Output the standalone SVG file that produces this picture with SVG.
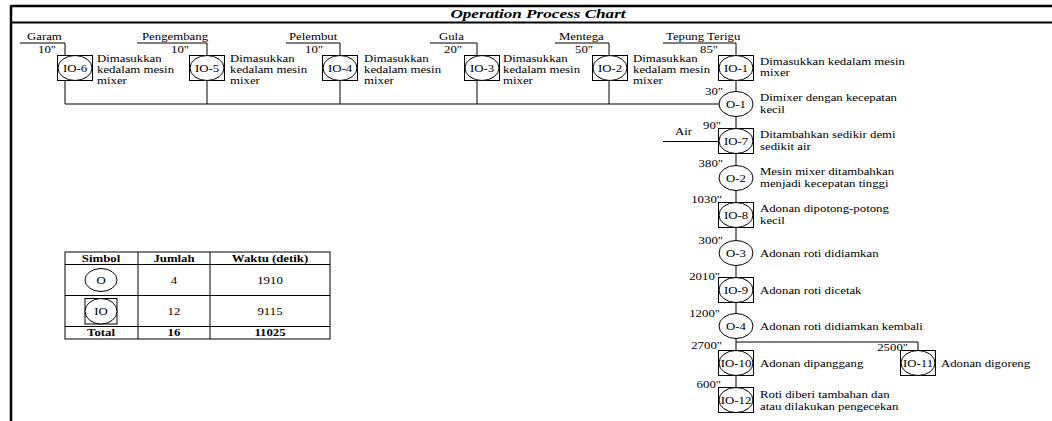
<svg xmlns="http://www.w3.org/2000/svg" width="1052" height="421" viewBox="0 0 1052 421">
<style>
text{font-family:"Liberation Serif","Times New Roman",serif;font-size:10px;fill:#000}
.t{font-size:13.5px;font-weight:bold;font-style:italic}
.c{text-anchor:middle}
.e{text-anchor:end}
.b{font-weight:bold}
.ln{stroke:#000;stroke-width:1;fill:none}
.sq{stroke:#000;stroke-width:1;fill:#fff}
.el{stroke:#000;stroke-width:1;fill:#fff}
</style>
<defs>
<g id="io"><rect class="sq" x="-17.5" y="-12.5" width="35" height="25"/><ellipse class="el" cx="0" cy="0" rx="17" ry="12.5"/></g>
<g id="op"><ellipse class="el" cx="0" cy="0" rx="17" ry="12.5"/></g>
</defs>
<rect width="1052" height="421" fill="#fff"/>
<g id="frame">
<line x1="11" y1="6" x2="1052" y2="6" stroke="#000" stroke-width="2.5"/>
<line x1="11" y1="22.5" x2="1052" y2="22.5" stroke="#000" stroke-width="2"/>
<line x1="11" y1="5" x2="11" y2="421" stroke="#000" stroke-width="2.5"/>
<text class="t c" transform="translate(538 18) scale(1.27 1)">Operation Process Chart</text>
</g>
<g id="connectors">
<path class="ln" d="M20 43H65V104H719"/>
<path class="ln" d="M137 43H207V104"/>
<path class="ln" d="M286 43H340V104"/>
<path class="ln" d="M430 43H477V104"/>
<path class="ln" d="M555 43H609V104"/>
<path class="ln" d="M663 43H736V388"/>
<path class="ln" d="M663 141.5H718.5"/>
<path class="ln" d="M736 342H918V350.5"/>
</g>
<g id="IO-6">
<text transform="translate(27 40) scale(1.28 1)">Garam</text>
<text class="e" transform="translate(56 53) scale(1.28 1)">10"</text>
<use href="#io" x="75" y="68"/>
<text class="c" transform="translate(75 71.5) scale(1.28 1)">IO-6</text>
<text transform="translate(97 62) scale(1.28 1)">Dimasukkan</text>
<text transform="translate(97 73) scale(1.28 1)">kedalam mesin</text>
<text transform="translate(97 84) scale(1.28 1)">mixer</text>
</g>
<g id="IO-5">
<text transform="translate(142 40) scale(1.28 1)">Pengembang</text>
<text class="e" transform="translate(189 53) scale(1.28 1)">10"</text>
<use href="#io" x="207" y="68"/>
<text class="c" transform="translate(207 71.5) scale(1.28 1)">IO-5</text>
<text transform="translate(230 62) scale(1.28 1)">Dimasukkan</text>
<text transform="translate(230 73) scale(1.28 1)">kedalam mesin</text>
<text transform="translate(230 84) scale(1.28 1)">mixer</text>
</g>
<g id="IO-4">
<text transform="translate(289 40) scale(1.28 1)">Pelembut</text>
<text class="e" transform="translate(323 53) scale(1.28 1)">10"</text>
<use href="#io" x="340" y="68"/>
<text class="c" transform="translate(340 71.5) scale(1.28 1)">IO-4</text>
<text transform="translate(364 62) scale(1.28 1)">Dimasukkan</text>
<text transform="translate(364 73) scale(1.28 1)">kedalam mesin</text>
<text transform="translate(364 84) scale(1.28 1)">mixer</text>
</g>
<g id="IO-3">
<text transform="translate(439 40) scale(1.28 1)">Gula</text>
<text class="e" transform="translate(462 53) scale(1.28 1)">20"</text>
<use href="#io" x="482" y="68"/>
<text class="c" transform="translate(482 71.5) scale(1.28 1)">IO-3</text>
<text transform="translate(503 62) scale(1.28 1)">Dimasukkan</text>
<text transform="translate(503 73) scale(1.28 1)">kedalam mesin</text>
<text transform="translate(503 84) scale(1.28 1)">mixer</text>
</g>
<g id="IO-2">
<text transform="translate(559 40) scale(1.28 1)">Mentega</text>
<text class="e" transform="translate(593 53) scale(1.28 1)">50"</text>
<use href="#io" x="610" y="68"/>
<text class="c" transform="translate(610 71.5) scale(1.28 1)">IO-2</text>
<text transform="translate(633 62) scale(1.28 1)">Dimasukkan</text>
<text transform="translate(633 73) scale(1.28 1)">kedalam mesin</text>
<text transform="translate(633 84) scale(1.28 1)">mixer</text>
</g>
<g id="IO-1">
<text transform="translate(666 40) scale(1.28 1)">Tepung Terigu</text>
<text class="e" transform="translate(718 53) scale(1.28 1)">85"</text>
<use href="#io" x="736" y="68"/>
<text class="c" transform="translate(736 71.5) scale(1.28 1)">IO-1</text>
<text transform="translate(760 65) scale(1.28 1)">Dimasukkan kedalam mesin</text>
<text transform="translate(760 76) scale(1.28 1)">mixer</text>
</g>
<g id="O-1">
<text class="e" transform="translate(723 95) scale(1.28 1)">30"</text>
<use href="#op" x="736" y="104"/>
<text class="c" transform="translate(736 107.5) scale(1.28 1)">O-1</text>
<text transform="translate(760 101) scale(1.28 1)">Dimixer dengan kecepatan</text>
<text transform="translate(760 113) scale(1.28 1)">kecil</text>
</g>
<g id="IO-7">
<text transform="translate(675 135) scale(1.28 1)">Air</text>
<text class="e" transform="translate(721 129) scale(1.28 1)">90"</text>
<use href="#io" x="736" y="141"/>
<text class="c" transform="translate(736 144.5) scale(1.28 1)">IO-7</text>
<text transform="translate(760 138) scale(1.28 1)">Ditambahkan sedikir demi</text>
<text transform="translate(760 150) scale(1.28 1)">sedikit air</text>
</g>
<g id="O-2">
<text class="e" transform="translate(723 167) scale(1.28 1)">380"</text>
<use href="#op" x="736" y="178"/>
<text class="c" transform="translate(736 181.5) scale(1.28 1)">O-2</text>
<text transform="translate(760 175) scale(1.28 1)">Mesin mixer ditambahkan</text>
<text transform="translate(760 187) scale(1.28 1)">menjadi kecepatan tinggi</text>
</g>
<g id="IO-8">
<text class="e" transform="translate(722 203) scale(1.28 1)">1030"</text>
<use href="#io" x="736" y="215"/>
<text class="c" transform="translate(736 218.5) scale(1.28 1)">IO-8</text>
<text transform="translate(760 212) scale(1.28 1)">Adonan dipotong-potong</text>
<text transform="translate(760 224) scale(1.28 1)">kecil</text>
</g>
<g id="O-3">
<text class="e" transform="translate(723 244) scale(1.28 1)">300"</text>
<use href="#op" x="736" y="253"/>
<text class="c" transform="translate(736 256.5) scale(1.28 1)">O-3</text>
<text transform="translate(760 256.5) scale(1.28 1)">Adonan roti didiamkan</text>
</g>
<g id="IO-9">
<text class="e" transform="translate(720 280) scale(1.28 1)">2010"</text>
<use href="#io" x="736" y="290"/>
<text class="c" transform="translate(736 293.5) scale(1.28 1)">IO-9</text>
<text transform="translate(760 293.5) scale(1.28 1)">Adonan roti dicetak</text>
</g>
<g id="O-4">
<text class="e" transform="translate(720 317) scale(1.28 1)">1200"</text>
<use href="#op" x="736" y="326"/>
<text class="c" transform="translate(736 329.5) scale(1.28 1)">O-4</text>
<text transform="translate(760 329.5) scale(1.28 1)">Adonan roti didiamkan kembali</text>
</g>
<g id="IO-10">
<text class="e" transform="translate(722 349) scale(1.28 1)">2700"</text>
<use href="#io" x="736" y="363"/>
<text class="c" transform="translate(736 366.5) scale(1.28 1)">IO-10</text>
<text transform="translate(760 366.5) scale(1.28 1)">Adonan dipanggang</text>
</g>
<g id="IO-11">
<text class="e" transform="translate(908 351) scale(1.28 1)">2500"</text>
<use href="#io" x="918" y="363"/>
<text class="c" transform="translate(918 366.5) scale(1.28 1)">IO-11</text>
<text transform="translate(941 366.5) scale(1.28 1)">Adonan digoreng</text>
</g>
<g id="IO-12">
<text class="e" transform="translate(721 388) scale(1.28 1)">600"</text>
<use href="#io" x="736" y="400"/>
<text class="c" transform="translate(736 403.5) scale(1.28 1)">IO-12</text>
<text transform="translate(760 398) scale(1.28 1)">Roti diberi tambahan dan</text>
<text transform="translate(760 410) scale(1.28 1)">atau dilakukan pengecekan</text>
</g>
<g id="table">
<rect class="ln" x="65" y="252" width="265" height="87"/>
<line class="ln" x1="138" y1="252" x2="138" y2="339"/>
<line class="ln" x1="210" y1="252" x2="210" y2="339"/>
<line class="ln" x1="65" y1="264.5" x2="330" y2="264.5" stroke-width="1.5"/>
<line class="ln" x1="65" y1="295.5" x2="330" y2="295.5"/>
<line class="ln" x1="65" y1="326.5" x2="330" y2="326.5" stroke-width="1.5"/>
<text class="c b" transform="translate(101 261.5) scale(1.28 1)">Simbol</text>
<text class="c b" transform="translate(174 261.5) scale(1.28 1)">Jumlah</text>
<text class="c b" transform="translate(270 261.5) scale(1.28 1)">Waktu (detik)</text>
<ellipse class="el" cx="101" cy="280" rx="16" ry="11.5"/>
<text class="c" transform="translate(101 283.5) scale(1.28 1)">O</text>
<text class="c" transform="translate(174 283.5) scale(1.28 1)">4</text>
<text class="c" transform="translate(270 283.5) scale(1.28 1)">1910</text>
<rect class="sq" x="85" y="298.5" width="32" height="25.5"/>
<ellipse class="el" cx="101" cy="311.25" rx="16" ry="12.75"/>
<text class="c" transform="translate(101 314.5) scale(1.28 1)">IO</text>
<text class="c" transform="translate(174 314.5) scale(1.28 1)">12</text>
<text class="c" transform="translate(270 314.5) scale(1.28 1)">9115</text>
<text class="c b" transform="translate(101 335.5) scale(1.28 1)">Total</text>
<text class="c b" transform="translate(174 335.5) scale(1.28 1)">16</text>
<text class="c b" transform="translate(270 335.5) scale(1.28 1)">11025</text>
</g>
</svg>
